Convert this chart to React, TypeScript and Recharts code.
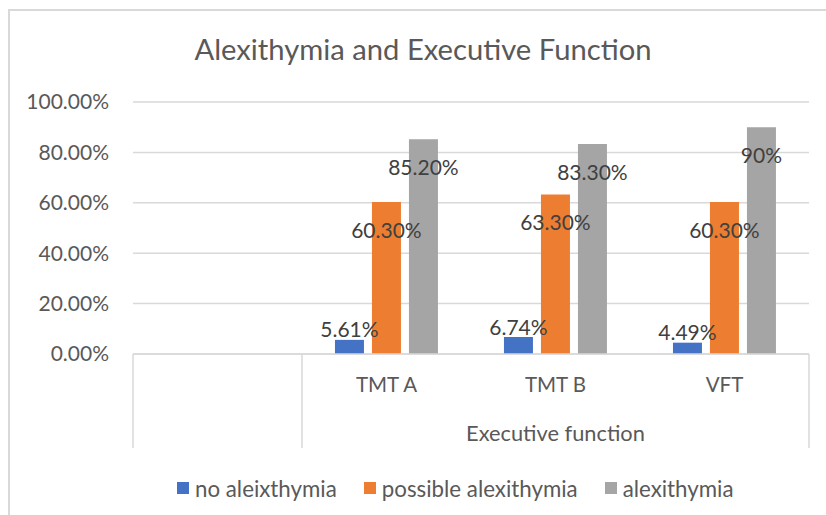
import React from 'react';
import { BarChart, Bar, XAxis, YAxis, CartesianGrid, Legend, LabelList } from 'recharts';

const title = 'Alexithymia and Executive Function';
const categories = ['', 'TMT A', 'TMT B', 'VFT'];
const groupLabel = 'Executive function';
const seriesNames = ['no aleixthymia', 'possible alexithymia', 'alexithymia'];
const noAlexithymia = [null, 0.0561, 0.0674, 0.0449];
const possibleAlexithymia = [null, 0.603, 0.633, 0.603];
const alexithymia = [null, 0.852, 0.833, 0.9];
const labelsNo = ['', '5.61%', '6.74%', '4.49%'];
const labelsPossible = ['', '60.30%', '63.30%', '60.30%'];
const labelsAlex = ['', '85.20%', '83.30%', '90%'];
const yTicks = [0, 0.2, 0.4, 0.6, 0.8, 1.0];
const colors = ['#4472C4', '#ED7D31', '#A5A5A5'];

const data = categories.map((c, i) => ({
  cat: c,
  no: noAlexithymia[i],
  possible: possibleAlexithymia[i],
  alex: alexithymia[i],
  noL: labelsNo[i],
  possibleL: labelsPossible[i],
  alexL: labelsAlex[i],
}));

const FONT = 'Lato, "Open Sans", sans-serif';
const GRID = '#d9d9d9';
const FS = 21;

const renderLabel = (props: any) => {
  const { x, y, width, value } = props;
  if (!value) return null;
  const v = parseFloat(String(value)) / 100;
  const cy = v > 0.3 ? Number(y) + 28.5 : Number(y) - 10;
  return (
    <text x={Number(x) + Number(width) / 2} y={cy + 7.5} textAnchor="middle" fontSize={FS} fontFamily={FONT} fill="#404040">
      {value}
    </text>
  );
};

const XTick = (props: any) => {
  const { x, y, payload, index } = props;
  const half = payload && payload.offset != null ? payload.offset : 84.5;
  const last = categories.length - 1;
  const mid = Math.floor((1 + last) / 2);
  return (
    <g>
      {index === 0 && <line x1={x - half} x2={x - half} y1={y} y2={y + 94} stroke={GRID} strokeWidth={1.5} />}
      {(index === 0 || index === last) && <line x1={x + half} x2={x + half} y1={y} y2={y + 94} stroke={GRID} strokeWidth={1.5} />}
      {payload.value && (
        <text x={x} y={y + 38} textAnchor="middle" fontSize={20.5} fontFamily={FONT} fill="#595959">
          {payload.value}
        </text>
      )}
      {index === mid && (
        <text x={x} y={y + 87} textAnchor="middle" fontSize={21.8} fontFamily={FONT} fill="#595959">
          {groupLabel}
        </text>
      )}
    </g>
  );
};

const LegendContent = () => (
  <div style={{ display: 'flex', alignItems: 'center', paddingLeft: 177, height: 30, fontFamily: FONT, fontSize: 22.3, color: '#595959' }}>
    {seriesNames.map((n, i) => (
      <div key={n} style={{ display: 'flex', alignItems: 'center', marginRight: 27 }}>
        <div style={{ width: 12, height: 12, background: colors[i], marginRight: 6 }} />
        <span>{n}</span>
      </div>
    ))}
  </div>
);

export default function App() {
  return (
    <div style={{ position: 'absolute', left: 0, top: 0, width: 826, height: 515, background: '#fff', overflow: 'hidden' }}>
      <div style={{ position: 'absolute', left: 8, top: 9, width: 840, height: 530, borderLeft: `2px solid ${GRID}`, borderTop: `2px solid ${GRID}` }} />
      <div style={{ position: 'absolute', left: 0, top: 32, width: 846, textAlign: 'center', fontFamily: FONT, fontSize: 29.2, color: '#595959', lineHeight: '34px' }}>
        {title}
      </div>
      <div style={{ position: 'absolute', left: 0, top: 0 }}>
        <BarChart width={826} height={515} data={data} margin={{ top: 102, right: 17, left: 0, bottom: 12 }} barCategoryGap="19.5%" barGap={8}>
          <CartesianGrid vertical={false} stroke={GRID} strokeWidth={1.5} />
          <XAxis dataKey="cat" interval={0} height={119} tickSize={0} tickMargin={0} tickLine={false} axisLine={{ stroke: GRID, strokeWidth: 1.5 }} tick={<XTick />} />
          <YAxis width={133} domain={[0, 1]} ticks={yTicks} tickSize={0} tickMargin={24} tickLine={false} axisLine={false}
            tickFormatter={(v: number) => (v * 100).toFixed(2) + '%'}
            tick={{ fontSize: FS, fontFamily: FONT, fill: '#595959' }} />
          <Legend verticalAlign="bottom" height={30} content={<LegendContent />} />
          <Bar dataKey="no" name={seriesNames[0]} fill={colors[0]} isAnimationActive={false}>
            <LabelList dataKey="noL" content={renderLabel} />
          </Bar>
          <Bar dataKey="possible" name={seriesNames[1]} fill={colors[1]} isAnimationActive={false}>
            <LabelList dataKey="possibleL" content={renderLabel} />
          </Bar>
          <Bar dataKey="alex" name={seriesNames[2]} fill={colors[2]} isAnimationActive={false}>
            <LabelList dataKey="alexL" content={renderLabel} />
          </Bar>
        </BarChart>
      </div>
    </div>
  );
}
